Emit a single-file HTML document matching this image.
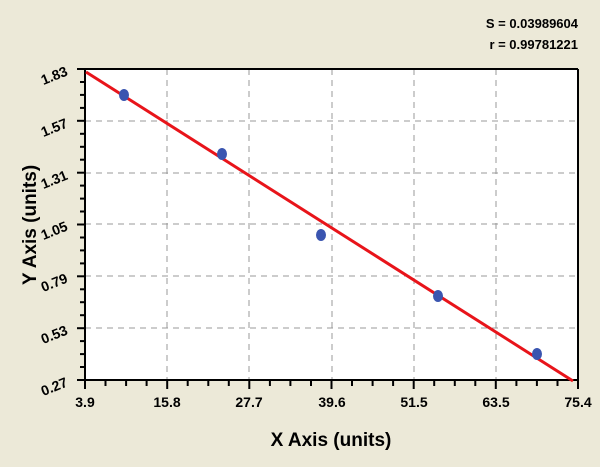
<!DOCTYPE html>
<html><head><style>body{margin:0;background:#ece9d8;}svg{display:block}</style></head><body>
<svg width="600" height="467" xmlns="http://www.w3.org/2000/svg" font-family="Liberation Sans, sans-serif" font-weight="bold">
<rect width="600" height="467" fill="#ece9d8"/>
<rect x="85" y="69" width="493" height="311" fill="#fff"/>
<g stroke="#999" stroke-dasharray="6,5" stroke-width="1">
<line x1="167" y1="69" x2="167" y2="380"/><line x1="249" y1="69" x2="249" y2="380"/>
<line x1="332" y1="69" x2="332" y2="380"/><line x1="414" y1="69" x2="414" y2="380"/>
<line x1="496" y1="69" x2="496" y2="380"/>
<line x1="85" y1="121" x2="578" y2="121"/><line x1="85" y1="173" x2="578" y2="173"/>
<line x1="85" y1="224" x2="578" y2="224"/><line x1="85" y1="276" x2="578" y2="276"/>
<line x1="85" y1="328" x2="578" y2="328"/>
</g>
<g stroke="#000" stroke-width="2">
<line x1="85" y1="69" x2="578" y2="69"/><line x1="578" y1="69" x2="578" y2="381"/>
<line x1="85" y1="68" x2="85" y2="381"/><line x1="84" y1="380" x2="579" y2="380"/>
</g>
<g stroke="#000" stroke-width="2">
<line x1="85" y1="380" x2="85" y2="389"/><line x1="105.5" y1="380" x2="105.5" y2="386"/><line x1="126.1" y1="380" x2="126.1" y2="386"/><line x1="146.6" y1="380" x2="146.6" y2="386"/>
<line x1="167.2" y1="380" x2="167.2" y2="389"/><line x1="187.7" y1="380" x2="187.7" y2="386"/><line x1="208.3" y1="380" x2="208.3" y2="386"/><line x1="228.8" y1="380" x2="228.8" y2="386"/>
<line x1="249.3" y1="380" x2="249.3" y2="389"/><line x1="269.9" y1="380" x2="269.9" y2="386"/><line x1="290.4" y1="380" x2="290.4" y2="386"/><line x1="311" y1="380" x2="311" y2="386"/>
<line x1="331.5" y1="380" x2="331.5" y2="389"/><line x1="352" y1="380" x2="352" y2="386"/><line x1="372.6" y1="380" x2="372.6" y2="386"/><line x1="393.1" y1="380" x2="393.1" y2="386"/>
<line x1="413.7" y1="380" x2="413.7" y2="389"/><line x1="434.2" y1="380" x2="434.2" y2="386"/><line x1="454.8" y1="380" x2="454.8" y2="386"/><line x1="475.3" y1="380" x2="475.3" y2="386"/>
<line x1="495.8" y1="380" x2="495.8" y2="389"/><line x1="516.4" y1="380" x2="516.4" y2="386"/><line x1="536.9" y1="380" x2="536.9" y2="386"/><line x1="557.5" y1="380" x2="557.5" y2="386"/>
<line x1="578" y1="380" x2="578" y2="389"/>
<line x1="77" y1="69" x2="85" y2="69"/><line x1="80" y1="82" x2="85" y2="82"/><line x1="80" y1="94.9" x2="85" y2="94.9"/><line x1="80" y1="107.9" x2="85" y2="107.9"/>
<line x1="77" y1="120.8" x2="85" y2="120.8"/><line x1="80" y1="133.8" x2="85" y2="133.8"/><line x1="80" y1="146.8" x2="85" y2="146.8"/><line x1="80" y1="159.7" x2="85" y2="159.7"/>
<line x1="77" y1="172.7" x2="85" y2="172.7"/><line x1="80" y1="185.6" x2="85" y2="185.6"/><line x1="80" y1="198.6" x2="85" y2="198.6"/><line x1="80" y1="211.5" x2="85" y2="211.5"/>
<line x1="77" y1="224.5" x2="85" y2="224.5"/><line x1="80" y1="237.5" x2="85" y2="237.5"/><line x1="80" y1="250.4" x2="85" y2="250.4"/><line x1="80" y1="263.4" x2="85" y2="263.4"/>
<line x1="77" y1="276.3" x2="85" y2="276.3"/><line x1="80" y1="289.3" x2="85" y2="289.3"/><line x1="80" y1="302.2" x2="85" y2="302.2"/><line x1="80" y1="315.2" x2="85" y2="315.2"/>
<line x1="77" y1="328.2" x2="85" y2="328.2"/><line x1="80" y1="341.1" x2="85" y2="341.1"/><line x1="80" y1="354.1" x2="85" y2="354.1"/><line x1="80" y1="367" x2="85" y2="367"/>
<line x1="77" y1="380" x2="85" y2="380"/>
</g>
<line x1="86" y1="72" x2="573" y2="381" stroke="#e8141a" stroke-width="3"/>
<g fill="#3a55b0">
<ellipse cx="124" cy="95" rx="5" ry="6"/><ellipse cx="222" cy="154" rx="5" ry="6"/>
<ellipse cx="321" cy="235" rx="5" ry="6"/><ellipse cx="438" cy="296" rx="5" ry="6"/>
<ellipse cx="537" cy="354" rx="5" ry="6"/>
</g>
<g font-size="14" text-anchor="middle">
<text x="85" y="407">3.9</text><text x="167" y="407">15.8</text><text x="249" y="407">27.7</text>
<text x="332" y="407">39.6</text><text x="414" y="407">51.5</text><text x="496" y="407">63.5</text><text x="578" y="407">75.4</text>
</g>
<g font-size="14" text-anchor="middle">
<text transform="translate(56,80) rotate(-22)">1.83</text>
<text transform="translate(56,132) rotate(-22)">1.57</text>
<text transform="translate(56,184) rotate(-22)">1.31</text>
<text transform="translate(56,235) rotate(-22)">1.05</text>
<text transform="translate(56,287) rotate(-22)">0.79</text>
<text transform="translate(56,339) rotate(-22)">0.53</text>
<text transform="translate(56,391) rotate(-22)">0.27</text>
</g>
<text x="331" y="446" font-size="19" text-anchor="middle">X Axis (units)</text>
<text transform="translate(36,225) rotate(-90)" font-size="19" text-anchor="middle">Y Axis (units)</text>
<text x="578" y="28" font-size="13" text-anchor="end">S = 0.03989604</text>
<text x="578" y="49" font-size="13" text-anchor="end">r = 0.99781221</text>
</svg>
</body></html>
